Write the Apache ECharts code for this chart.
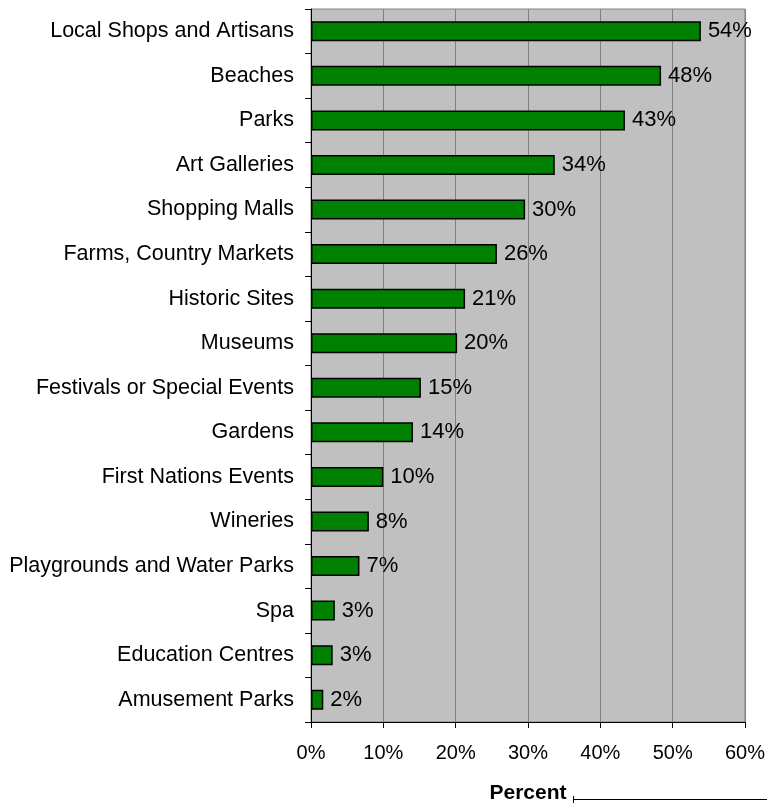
<!DOCTYPE html>
<html>
<head>
<meta charset="utf-8">
<script src="https://cdn.jsdelivr.net/npm/echarts@6/dist/echarts.min.js"></script>
<style>
html,body{margin:0;padding:0;background:#fff;}
#chart{width:767px;height:804px;}
</style>
</head>
<body>
<div id="chart"></div>
<script>
var categories = ["Local Shops and Artisans","Beaches","Parks","Art Galleries","Shopping Malls","Farms, Country Markets","Historic Sites","Museums","Festivals or Special Events","Gardens","First Nations Events","Wineries","Playgrounds and Water Parks","Spa","Education Centres","Amusement Parks"];
var values = [53.9,48.4,43.4,33.7,29.6,25.7,21.3,20.2,15.2,14.1,10.0,8.0,6.7,3.3,3.0,1.7];
var valueLabels = ["54%","48%","43%","34%","30%","26%","21%","20%","15%","14%","10%","8%","7%","3%","3%","2%"];
var xTicks = [0,10,20,30,40,50,60];

var font = "'Liberation Sans', Arial, sans-serif";
var chart = echarts.init(document.getElementById('chart'));
chart.setOption({
  animation:false,
  backgroundColor:'#ffffff',
  grid:{left:311,right:22,top:9,bottom:82,containLabel:false,outerBoundsMode:'none',show:true,backgroundColor:'#C0C0C0',borderColor:'#808080',borderWidth:1},
  xAxis:{
    type:'value',min:xTicks[0],max:xTicks[xTicks.length-1],interval:10,
    axisLine:{show:true,lineStyle:{color:'#000',width:1}},
    axisTick:{show:true,length:6,lineStyle:{color:'#000'}},
    axisLabel:{formatter:'{value}%',color:'#000',fontSize:20,fontFamily:font,margin:21},
    splitLine:{show:true,lineStyle:{color:'#808080',width:1}},
    name:'Percent',nameLocation:'middle',nameGap:61,
    nameTextStyle:{color:'#000',fontSize:21,fontWeight:'bold',fontFamily:font}
  },
  yAxis:{
    type:'category',data:categories,inverse:true,
    axisLine:{show:true,lineStyle:{color:'#000',width:1}},
    axisTick:{show:true,length:6,lineStyle:{color:'#000'}},
    axisLabel:{color:'#000',fontSize:21.5,fontFamily:font,margin:17}
  },
  series:[{
    type:'bar',data:values,barWidth:'45%',
    itemStyle:{color:'#008000',borderColor:'#000',borderWidth:1.5},
    label:{show:true,position:'right',distance:7,color:'#000',fontSize:22,fontFamily:font,
      formatter:function(p){return valueLabels[p.dataIndex];}}
  }],
  graphic:[
    {type:'line',shape:{x1:573,y1:799.5,x2:767,y2:799.5},style:{stroke:'#000',lineWidth:1}},
    {type:'line',shape:{x1:573.5,y1:796,x2:573.5,y2:803},style:{stroke:'#000',lineWidth:1}}
  ]
});
</script>
</body>
</html>
